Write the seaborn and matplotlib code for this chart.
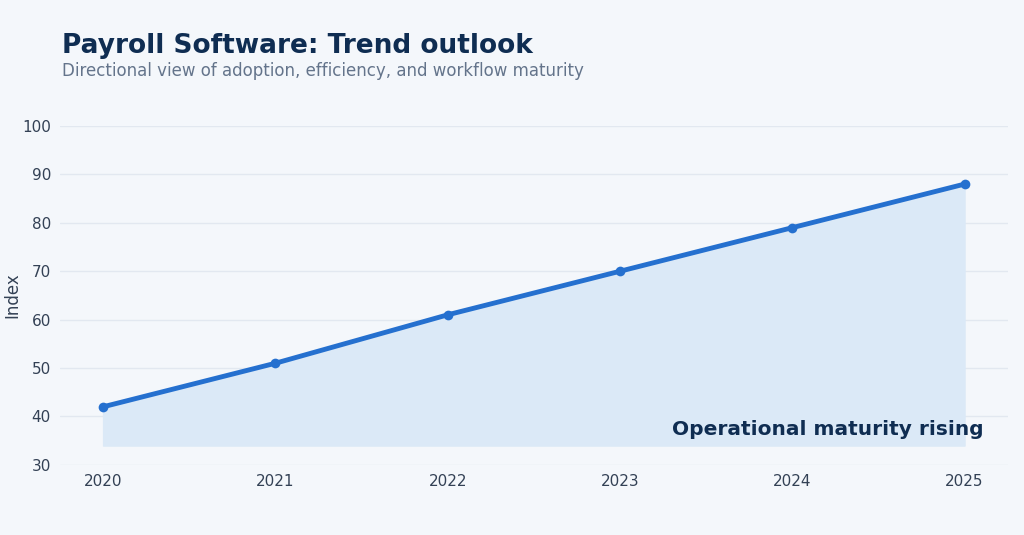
import numpy as np
import pandas as pd
import matplotlib
matplotlib.use("Agg")
import matplotlib.pyplot as plt
import seaborn as sns

years = [2020, 2021, 2022, 2023, 2024, 2025]
index_values = [42, 51, 61, 70, 79, 88]
fill_floor = 34
y_ticks = [30, 40, 50, 60, 70, 80, 90, 100]

bg = "#f4f7fb"
line_color = "#2570cf"
navy = "#0f2d52"

sns.set_theme(style="white")
plt.rcParams["font.family"] = "sans-serif"
plt.rcParams["font.sans-serif"] = ["DejaVu Sans"]

df = pd.DataFrame({"year": years, "index": index_values})

fig = plt.figure(figsize=(10.24, 5.35), dpi=100, facecolor=bg)
ax = fig.add_axes([0.0586, 0.131, 0.9254, 0.6335])
ax.set_facecolor(bg)

ax.fill_between(df["year"], fill_floor, df["index"], color="#dbe9f7", zorder=1)
sns.lineplot(data=df, x="year", y="index", ax=ax, color=line_color, linewidth=3.5,
             marker="o", markersize=7, markeredgewidth=0, zorder=3)

ax.set_xlim(2019.75, 2025.25)
ax.set_ylim(30, 100)
ax.set_xticks(years)
ax.set_yticks(y_ticks)
ax.grid(axis="y", color="#e2e8f0", linewidth=1)
ax.set_axisbelow(True)
for s in ax.spines.values():
    s.set_visible(False)
ax.tick_params(axis="both", colors="#cbd5e1", labelcolor="#334155", labelsize=11, length=3, width=0.8)
ax.set_xlabel("")
ax.set_ylabel("Index", fontsize=12, color="#334155")
ax.yaxis.set_label_coords(-0.041, 0.5)

ax.text(0.975, 0.075, "Operational maturity rising", transform=ax.transAxes,
        ha="right", va="bottom", fontsize=14.5, fontweight="bold", color=navy, zorder=4)

fig.text(0.0605, 0.89, "Payroll Software: Trend outlook", fontsize=19,
         fontweight="bold", color=navy, ha="left", va="bottom")
fig.text(0.0605, 0.851, "Directional view of adoption, efficiency, and workflow maturity",
         fontsize=12, color="#64748b", ha="left", va="bottom")

fig.savefig("out.png", dpi=100, facecolor=bg)
